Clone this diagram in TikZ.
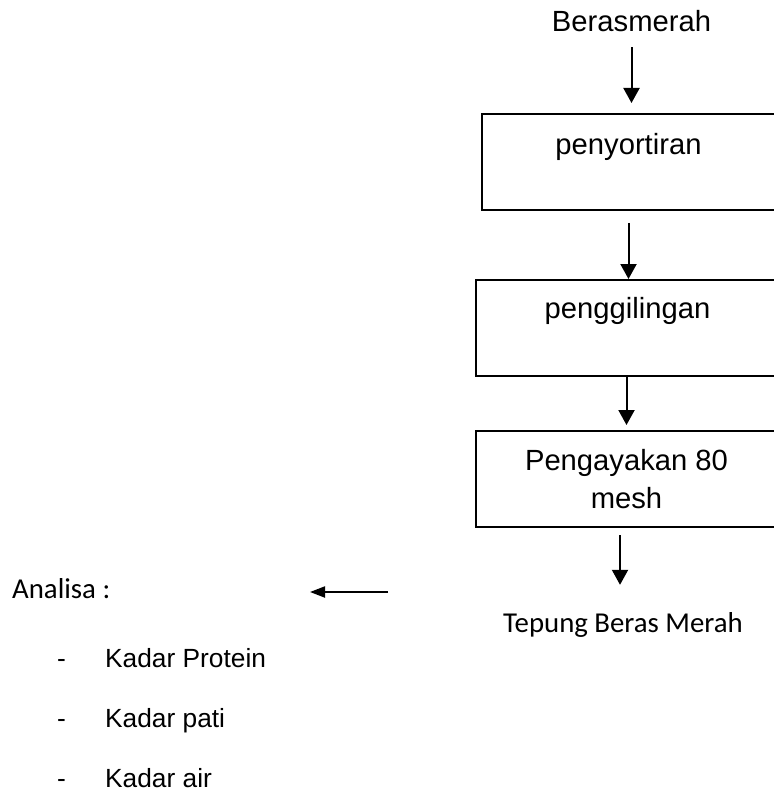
\documentclass[tikz,border=0pt]{standalone}
\usepackage{fontspec}
\setmainfont{Liberation Sans}
\newfontfamily\calibri{Carlito}
\usepackage{tikz}
\usetikzlibrary{arrows.meta,positioning,calc}

\begin{document}
\begin{tikzpicture}[x=1pt, y=-1pt, every node/.style={font=\fontsize{29.2}{38}\selectfont, inner sep=0pt},
  procbox/.style={draw, line width=2pt, anchor=north west, minimum height=96pt},
  cal/.style={font=\calibri\fontsize{28.8}{34}\selectfont},
  item/.style={font=\fontsize{26.3}{30}\selectfont, anchor=base west},
  flow/.style={line width=2pt, -{Triangle[width=16pt,length=15pt]}}]
  \useasboundingbox (0,0) rectangle (773,791);
  % proses utama
  \node[anchor=base] (bm) at (631.5,32) {Berasmerah};
  \node[procbox, minimum width=293pt, text height=21pt, text depth=36pt] (sort) at (481,113) {penyortiran};
  \node[procbox, minimum width=303pt, text height=21pt, text depth=40pt] (mill) at (475,279) {penggilingan};
  \node[procbox, minimum width=301pt, align=center] (sieve) at (475,430) {Pengayakan 80\\mesh};
  \node[cal, anchor=base] (tepung) at (623,632) {Tepung Beras Merah};
  \draw[flow, shorten <=15pt, shorten >=10pt] (bm.south) -- (bm.south |- sort.north);
  \draw[flow, shorten <=12pt] (sort.south) -- (sort.south |- mill.north);
  \draw[flow, shorten >=5pt] (sieve.north |- mill.south) -- (sieve.north);
  \draw[flow, shorten <=7pt, shorten >=27pt] ([xshift=-6.5pt]sieve.south) -- ([xshift=-6.5pt]sieve.south |- tepung.north);
  % analisa
  \node[cal, anchor=base west] (analisa) at (12,598) {Analisa :};
  \coordinate (tail) at (388,592);
  \coordinate (head) at (310,592);
  \draw[line width=2pt, -{Triangle[width=11pt,length=15pt]}] (tail) -- (head);
  \node[item] (d1) at (57,667) {-};
  \node[item] (prot) at (105,667) {Kadar Protein};
  \node[item] (d2) at (57,727) {-};
  \node[item] (pati) at (105,727) {Kadar pati};
  \node[item] (d3) at (57,787) {-};
  \node[item] (air) at (105,787) {Kadar air};
\end{tikzpicture}
\end{document}
